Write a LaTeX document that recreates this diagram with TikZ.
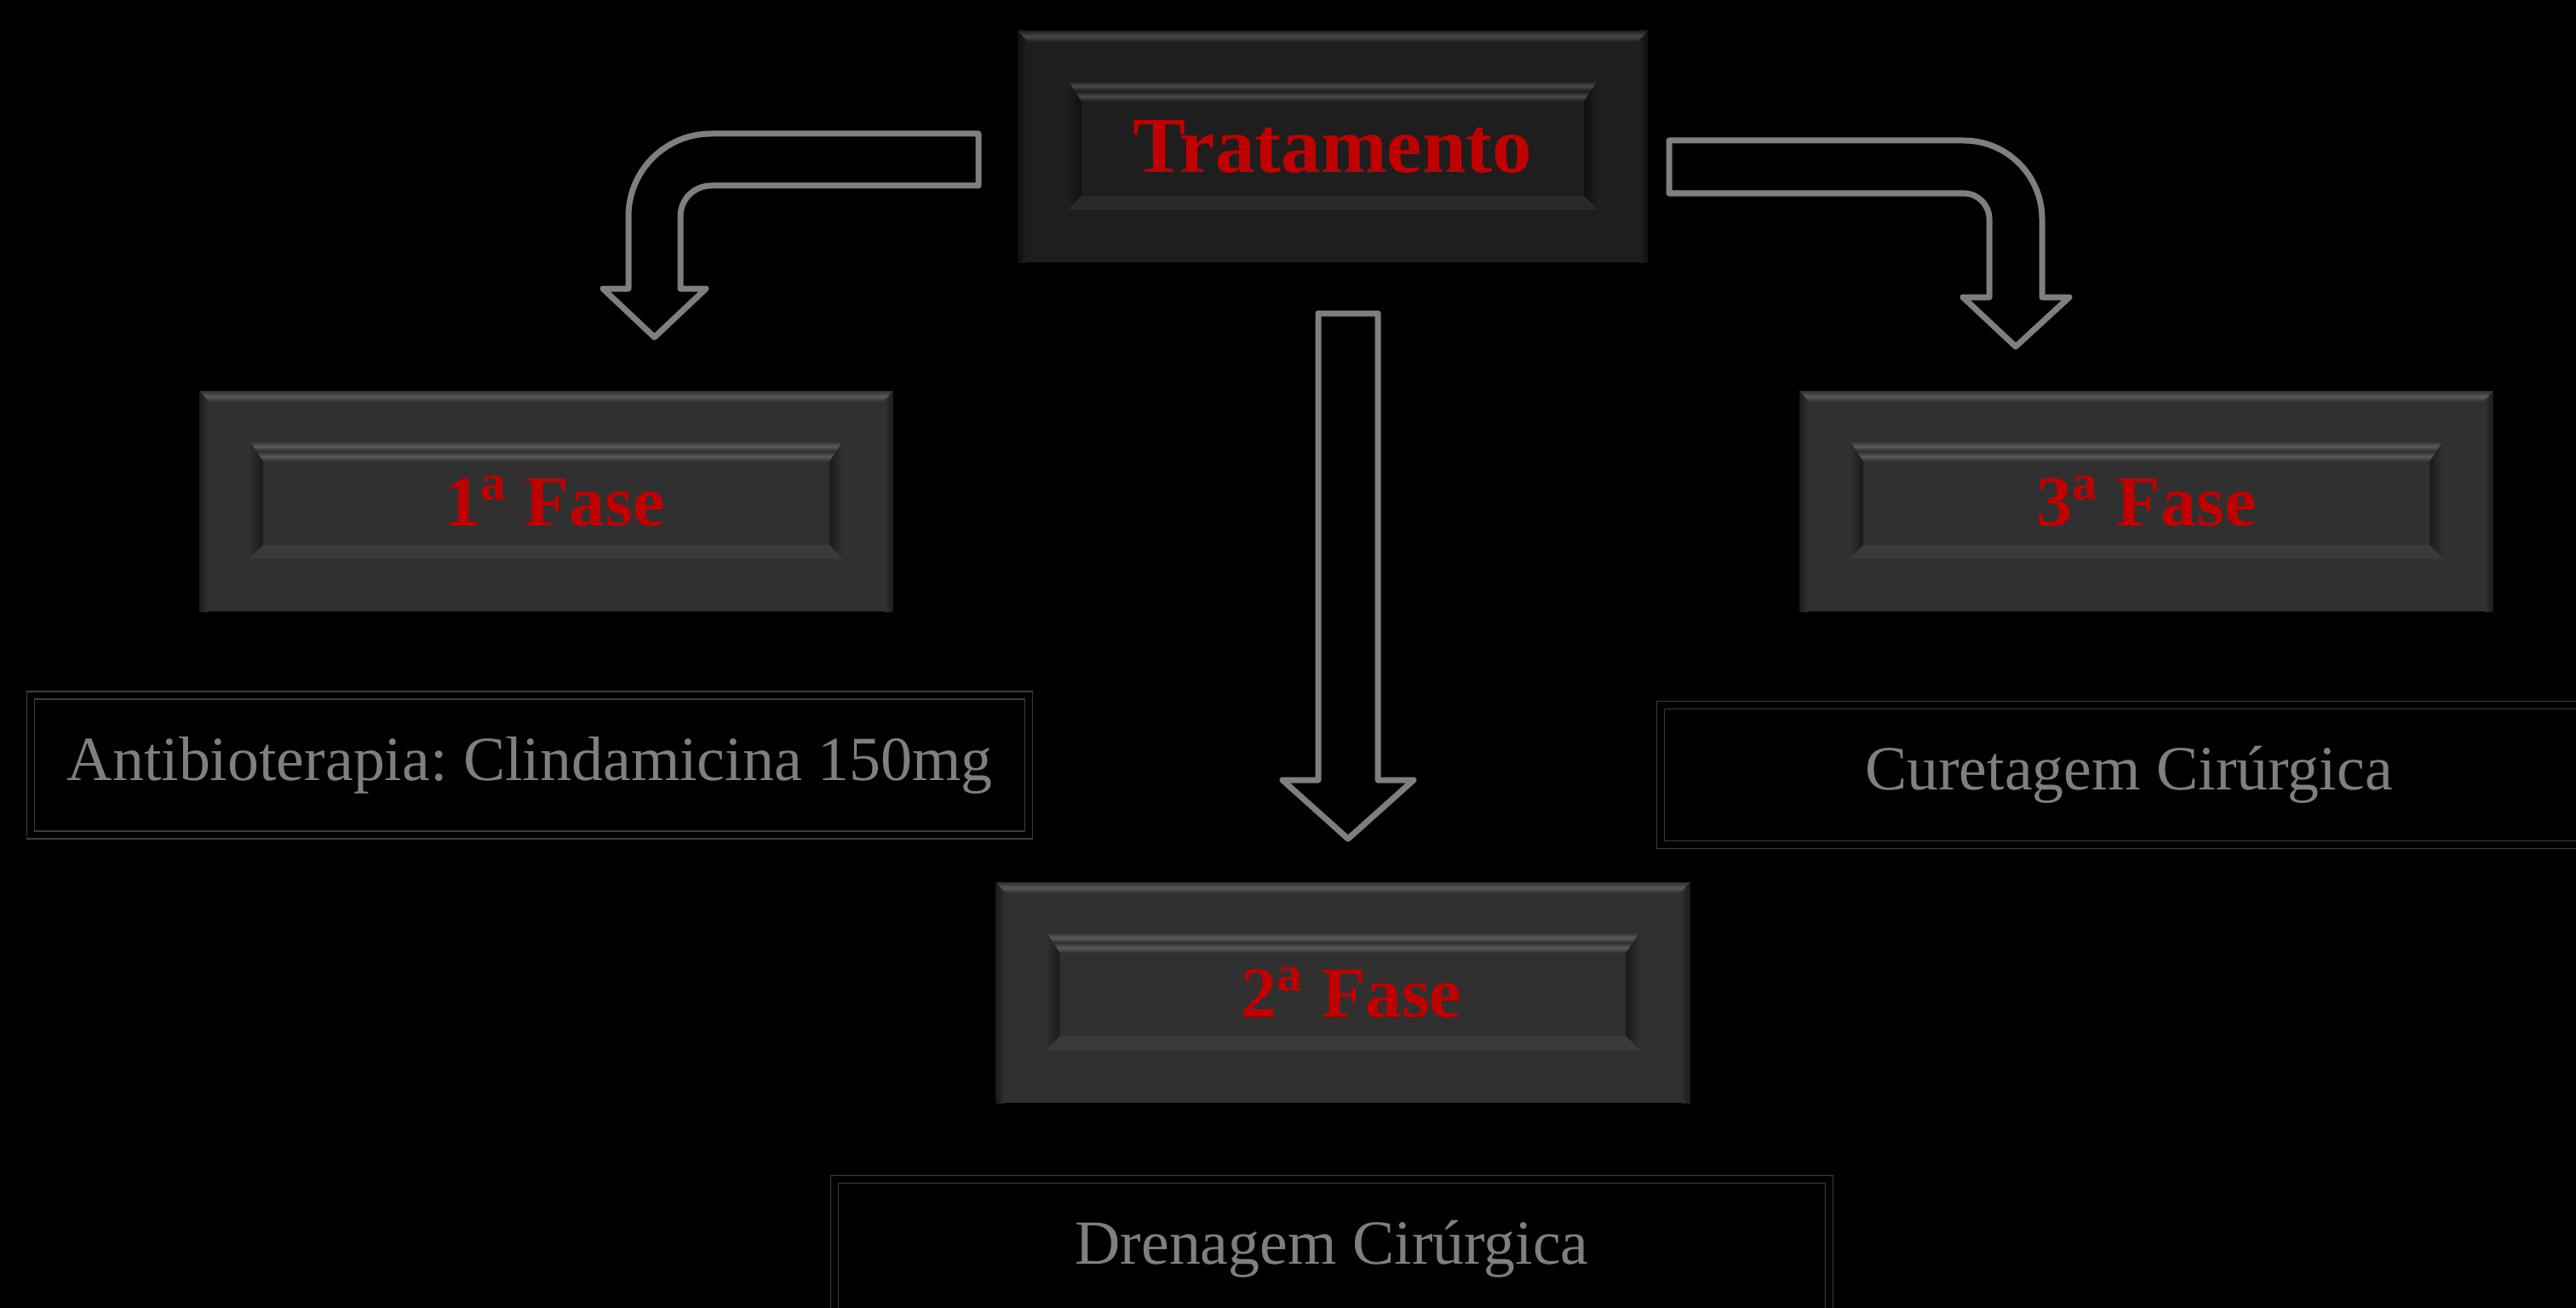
\documentclass[tikz,border=0pt]{standalone}
\usepackage{fontspec}
\setmainfont{Liberation Serif}
\usetikzlibrary{calc}
\frenchspacing
\definecolor{fasered}{HTML}{C00000}
\definecolor{fasegray}{HTML}{303030}
\definecolor{tratgray}{HTML}{1E1E1E}
\definecolor{notegray}{HTML}{7F7F7F}
\definecolor{framegray}{HTML}{3C3C3C}

\tikzset{
  bevel/.style n args={3}{path picture={
    \coordinate (nw) at (path picture bounding box.north west);
    \coordinate (se) at (path picture bounding box.south east);
    \coordinate (ne) at (nw -| se);
    \coordinate (sw) at (nw |- se);
    % outer rim
    \shade[left color=#3, right color=#1] (nw) rectangle ($(sw)+(.1,0)$);
    \shade[left color=#1, right color=#3] ($(ne)+(-.1,0)$) rectangle (se);
    \shade[top color=#1, bottom color=#1, middle color=#2]
      (nw) -- (ne) -- ($(ne)+(-.12,-.13)$) -- ($(nw)+(.12,-.13)$) -- cycle;
    % raised panel
    \shade[top color=#1, bottom color=#1, middle color=#2]
      ($(nw)+(.59,-.59)$) -- ($(ne)+(-.59,-.59)$) -- ($(ne)+(-.67,-.71)$) -- ($(nw)+(.67,-.71)$) -- cycle;
    \shade[top color=#1, bottom color=#1, middle color=#2]
      ($(nw)+(.67,-.71)$) -- ($(ne)+(-.67,-.71)$) -- ($(ne)+(-.75,-.83)$) -- ($(nw)+(.75,-.83)$) -- cycle;
    \shade[left color=#1, right color=#3]
      ($(nw)+(.59,-.59)$) -- ($(nw)+(.75,-.83)$) -- ($(sw)+(.75,.78)$) -- ($(sw)+(.59,.62)$) -- cycle;
    \shade[left color=#3, right color=#1]
      ($(ne)+(-.59,-.59)$) -- ($(ne)+(-.75,-.83)$) -- ($(se)+(-.75,.78)$) -- ($(se)+(-.59,.62)$) -- cycle;
    \fill[#1!95!white]
      ($(sw)+(.59,.62)$) -- ($(sw)+(.75,.78)$) -- ($(se)+(-.75,.78)$) -- ($(se)+(-.59,.62)$) -- cycle;
  }},
  trat/.style={minimum width=7.40cm, minimum height=2.72cm, inner sep=0pt,
    fill=tratgray, text=fasered, font=\fontsize{26.5}{30}\selectfont\bfseries,
    bevel={tratgray}{tratgray!81!white}{tratgray!50!black}},
  fase/.style={minimum width=8.15cm, minimum height=2.59cm, inner sep=0pt,
    fill=fasegray, text=fasered, font=\fontsize{24}{28}\selectfont\bfseries,
    bevel={fasegray}{fasegray!80!white}{fasegray!55!black}},
  note/.style={draw=framegray, double=black, double distance=0.078cm,
    line width=0.015cm, minimum height=1.64cm, inner sep=0pt,
    text=notegray, font=\fontsize{21}{25}\selectfont},
}

\begin{document}
\begin{tikzpicture}[blockarrow/.style={draw=notegray, line width=0.07cm, line join=round}]
\useasboundingbox (0, 0) rectangle (30.25, -15.36);
\clip (0, 0) rectangle (30.25, -15.36);
\fill[black] (0, 0) rectangle (30.25, -15.36);

\node[trat] at (15.65, -1.72)   (trat)  {Tratamento};
\node[fase] at (6.415, -5.885)  (fase1) {\hspace{0.2cm}1\textsuperscript{a} Fase};
\node[fase] at (25.205, -5.885) (fase3) {3\textsuperscript{a} Fase};
\node[fase] at (15.77, -11.655) (fase2) {\hspace{0.2cm}2\textsuperscript{a} Fase};

\node[note, minimum width=11.72cm] at (6.22, -8.985) (antib) {Antibioterapia: Clindamicina 150mg};
\node[note, minimum width=11.00cm] at (25.00, -9.10) (curet) {Curetagem Cirúrgica};
\node[note, minimum width=11.68cm] at (15.64, -14.67) (dren)  {Drenagem Cirúrgica};

% left bent arrow
\draw[blockarrow] (11.49, -1.57) -- (8.35, -1.57) arc[start angle=90, end angle=180, radius=0.97]
  -- (7.38, -3.39) -- (7.08, -3.39) -- (7.685, -3.96) -- (8.29, -3.39) -- (7.99, -3.39)
  -- (7.99, -2.54) arc[start angle=180, end angle=90, radius=0.36] -- (11.49, -2.18) -- cycle;
% right bent arrow
\draw[blockarrow] (19.60, -1.65) -- (23.06, -1.65) arc[start angle=90, end angle=0, radius=0.92]
  -- (23.98, -3.49) -- (24.30, -3.49) -- (23.67, -4.07) -- (23.05, -3.49) -- (23.36, -3.49)
  -- (23.36, -2.57) arc[start angle=0, end angle=90, radius=0.30] -- (19.60, -2.27) -- cycle;
% straight arrow
\draw[blockarrow] (15.48, -3.68) -- (16.18, -3.68) -- (16.18, -9.16) -- (16.60, -9.16)
  -- (15.83, -9.85) -- (15.06, -9.16) -- (15.48, -9.16) -- cycle;
\end{tikzpicture}
\end{document}
